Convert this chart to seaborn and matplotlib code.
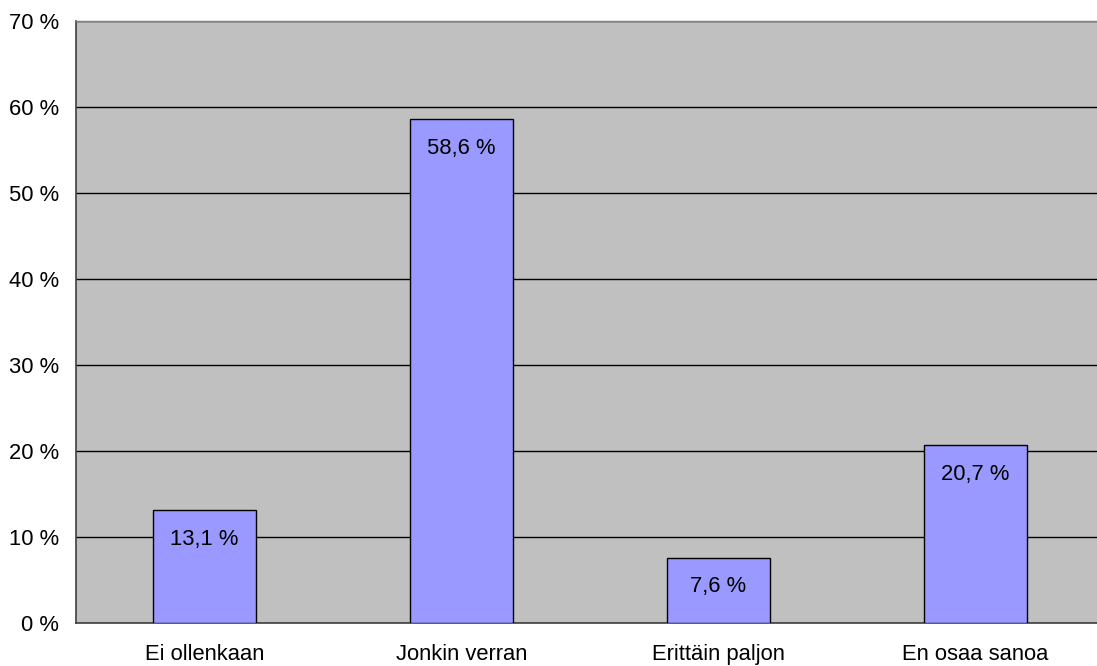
import matplotlib
matplotlib.use("Agg")
import matplotlib.pyplot as plt
import seaborn as sns
import pandas as pd
from matplotlib.ticker import FuncFormatter, FixedLocator

categories = ["Ei ollenkaan", "Jonkin verran", "Erittäin paljon", "En osaa sanoa"]
values = [13.1, 58.6, 7.6, 20.7]
y_ticks = [0, 10, 20, 30, 40, 50, 60, 70]

sns.set_style("white")
plt.rcParams["font.family"] = ["Liberation Sans", "DejaVu Sans"]

FS = 15.8

df = pd.DataFrame({"category": categories, "value": values})

fig = plt.figure(figsize=(10.97, 6.66), dpi=100)
ax = fig.add_axes([76 / 1097, 43 / 666, 1028 / 1097, 602 / 666])
ax.set_facecolor("#C0C0C0")

sns.barplot(data=df, x="category", y="value", color="#9999FF", saturation=1,
            edgecolor="black", linewidth=1.0, width=0.4, ax=ax, zorder=3)

ax.set_xlim(-0.5, len(categories) - 0.5)
ax.set_ylim(0, 70)
ax.yaxis.set_major_locator(FixedLocator(y_ticks))
ax.yaxis.set_major_formatter(FuncFormatter(lambda v, p: f"{int(v)} %"))
ax.grid(axis="y", color="#000000", linewidth=1.0, zorder=0)
ax.grid(axis="x", visible=False)
ax.set_axisbelow(True)

ax.set_xlabel("")
ax.set_ylabel("")

# category labels centered, tick marks between categories
ax.tick_params(axis="x", which="major", length=0, labelsize=FS, pad=15, colors="black")
ax.set_xticks([i - 0.5 for i in range(len(categories) + 1)], minor=True)
ax.tick_params(axis="x", which="minor", length=5, width=1, color="#404040")
ax.tick_params(axis="y", which="major", length=5, width=1, color="#404040",
               labelsize=FS, pad=7, labelcolor="black")

for side in ["left", "bottom"]:
    ax.spines[side].set_color("#404040")
    ax.spines[side].set_linewidth(1.2)
ax.spines["top"].set_color("#808080")
ax.spines["top"].set_linewidth(1.0)
ax.spines["right"].set_visible(False)

for i, v in enumerate(values):
    label = f"{v:.1f}".replace(".", ",") + " %"
    ax.annotate(label, xy=(i, v), xytext=(0, -21), textcoords="offset points",
                ha="center", va="center", fontsize=FS, color="black", zorder=4)

fig.savefig("out.png", dpi=100)
